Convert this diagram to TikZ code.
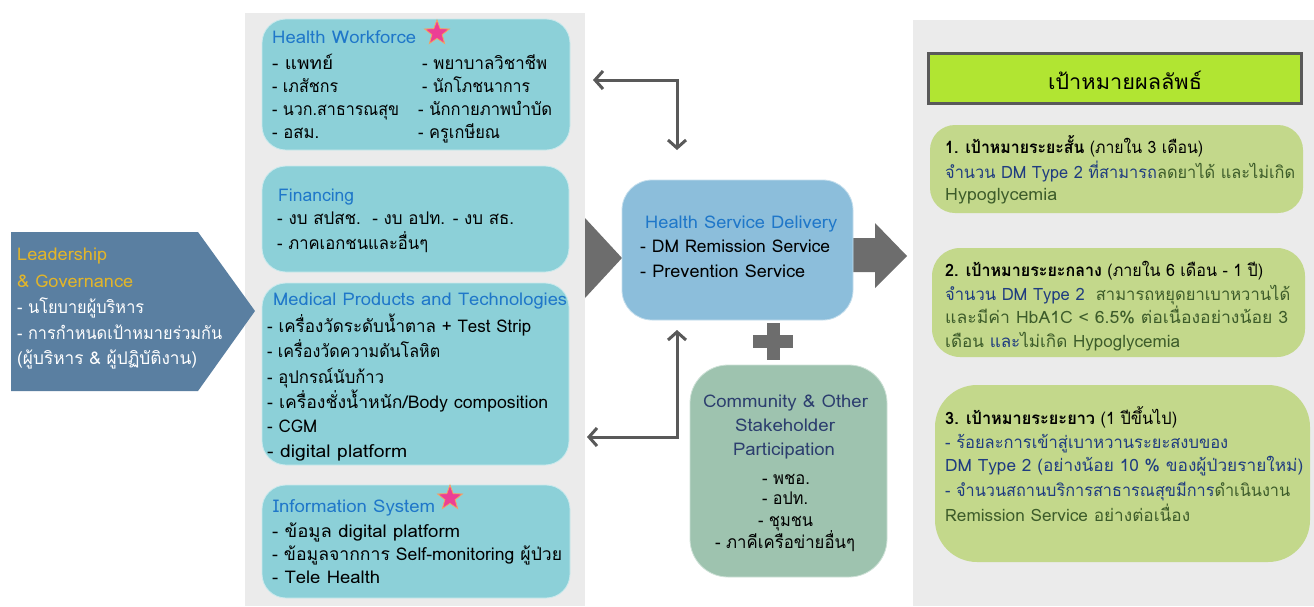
\documentclass[tikz,border=0pt]{standalone}
\usepackage{fontspec}
\usepackage{graphicx}
\setmainfont[Script=Thai]{Loma}
\usetikzlibrary{arrows.meta,shapes.geometric}
\definecolor{panel}{HTML}{EBEBEB}
\definecolor{tealbox}{HTML}{8CD0D8}
\definecolor{titleblue}{HTML}{1F77C9}
\definecolor{lead}{HTML}{5A7FA1}
\definecolor{gold}{HTML}{E2B52A}
\definecolor{hsd}{HTML}{8CBEDB}
\definecolor{sage}{HTML}{9EC3AF}
\definecolor{navy}{HTML}{2C3E6E}
\definecolor{lime}{HTML}{B1E532}
\definecolor{goal}{HTML}{C3D88B}
\definecolor{gblue}{HTML}{1F3C80}
\definecolor{ggreen}{HTML}{3D5C2A}
\definecolor{blockgray}{HTML}{6D6D6D}
\definecolor{linegray}{HTML}{595959}
\definecolor{starpink}{HTML}{EC3F95}
\definecolor{starorange}{HTML}{F4A460}
\newcommand{\fw}[2]{\resizebox{#1pt}{\height}{#2}}
\tikzset{
  box/.style={draw=white!55!tealbox, line width=0.8pt, fill=tealbox, rounded corners=24pt, inner sep=0},
  tx/.style={anchor=base west, inner sep=0, font=\fontsize{17.5}{20}\selectfont},
  ttl/.style={tx, text=titleblue},
  ctx/.style={anchor=base, inner sep=0, font=\fontsize{17.5}{20}\selectfont},
  gtx/.style={anchor=base west, inner sep=0, font=\fontsize{17}{20}\selectfont},
  conn/.style={draw=linegray, line width=3pt, {Straight Barb[length=8pt,width=18pt]}-{Straight Barb[length=8pt,width=18pt]}},
  pstar/.style={star, star points=5, star point ratio=2.4, fill=starpink, draw=starorange, line width=0.8pt, minimum size=26pt, inner sep=0},
}
\begin{document}
\begin{tikzpicture}[x=1pt,y=-1pt]
\useasboundingbox (0,0) rectangle (1314,606);
\fill[white] (0,0) rectangle (1314,606);
% panels
\fill[panel] (245,13) rectangle (585,606);
\fill[panel] (913,20) rectangle (1314,606);
% leadership pentagon
\fill[lead] (11,232) -- (198,232) -- (255,311) -- (198,391) -- (11,391) -- cycle;
\node[tx, text=gold] (l1) at (17,260) {\fw{90}{Leadership}};
\node[tx, text=gold] (l2) at (17,287) {\fw{116}{\& Governance}};
\node[tx, text=white] (l3) at (17,313) {\fw{127}{- นโยบายผู้บริหาร}};
\node[tx, text=white] (l4) at (17,339) {\fw{205}{- การกำหนดเป้าหมายร่วมกัน}};
\node[tx, text=white] (l5) at (17,364) {\fw{180}{(ผู้บริหาร \& ผู้ปฏิบัติงาน)}};
% Health workforce
\node[box, minimum width=308pt, minimum height=131pt] (hw) at (416,84.5) {};
\node[ttl] (hwt) at (272,43) {\fw{144}{Health Workforce}};
\node[pstar] (hws) at (437,33) {};
\node[tx] (hw1) at (272,69) {\fw{61}{- แพทย์}};
\node[tx] (hw2) at (272,92) {\fw{66}{- เภสัชกร}};
\node[tx] (hw3) at (272,115) {\fw{127}{- นวก.สาธารณสุข}};
\node[tx] (hw4) at (272,138) {\fw{47}{- อสม.}};
\node[tx] (hw5) at (422,69) {\fw{125}{- พยาบาลวิชาชีพ}};
\node[tx] (hw6) at (422,92) {\fw{108}{- นักโภชนาการ}};
\node[tx] (hw7) at (418,115) {\fw{134}{- นักกายภาพบำบัด}};
\node[tx] (hw8) at (418,138) {\fw{82}{- ครูเกษียณ}};
% Financing
\node[box, minimum width=307pt, minimum height=106pt] (fin) at (415.5,219) {};
\node[ttl] (fint) at (278,201) {\fw{76}{Financing}};
\node[tx] (fin1) at (277,224) {\fw{237}{- งบ สปสช.\ \ - งบ อปท. - งบ สธ.}};
\node[tx] (fin2) at (277,249) {\fw{151}{- ภาคเอกชนและอื่นๆ}};
% Medical products
\node[box, minimum width=307pt, minimum height=182pt] (med) at (415.5,374) {};
\node[ttl] (medt) at (273,305) {\fw{294}{Medical Products and Technologies}};
\node[tx] (med1) at (267,332) {\fw{264}{- เครื่องวัดระดับน้ำตาล + Test Strip}};
\node[tx] (med2) at (267,357) {\fw{173}{- เครื่องวัดความดันโลหิต}};
\node[tx] (med3) at (267,383) {\fw{117}{- อุปกรณ์นับก้าว}};
\node[tx] (med4) at (267,408) {\fw{281}{- เครื่องชั่งน้ำหนัก/Body composition}};
\node[tx] (med5) at (267,432) {\fw{50}{- CGM}};
\node[tx] (med6) at (267,457) {\fw{140}{- digital platform}};
% Information system
\node[box, minimum width=308pt, minimum height=113pt] (info) at (416,541.5) {};
\node[ttl] (infot) at (273,512) {\fw{162}{Information System}};
\node[pstar] (infos) at (450,498) {};
\node[tx] (info1) at (272,537) {\fw{188}{- ข้อมูล digital platform}};
\node[tx] (info2) at (272,560) {\fw{290}{- ข้อมูลจากการ Self-monitoring ผู้ป่วย}};
\node[tx] (info3) at (272,583) {\fw{108}{- Tele Health}};
% block arrows
\fill[blockgray] (585,218) -- (622,258) -- (585,298) -- cycle;
\fill[blockgray] (853,238) -- (875,238) -- (875,223) -- (907,256) -- (875,288) -- (875,272) -- (853,272) -- cycle;
% Health service delivery
\node[draw=white!50!hsd, line width=0.8pt, fill=hsd, rounded corners=30pt, minimum width=231pt, minimum height=140pt, inner sep=0] (hsdb) at (737.5,250) {};
\node[ttl] (hsdt) at (645,228) {\fw{192}{Health Service Delivery}};
\node[tx] (hsd1) at (640,252) {\fw{190}{- DM Remission Service}};
\node[tx] (hsd2) at (640,277) {\fw{165}{- Prevention Service}};
% plus
\fill[blockgray] (767,323) rectangle (780,360);
\fill[blockgray] (753,335) rectangle (793,348);
% community
\node[draw=white!50!sage, line width=0.8pt, fill=sage, rounded corners=38pt, minimum width=197pt, minimum height=212pt, inner sep=0] (comm) at (788.5,471) {};
\node[ctx, text=navy] (c1) at (785.5,407) {\fw{165}{Community \& Other}};
\node[ctx, text=navy] (c2) at (785,431) {\fw{100}{Stakeholder}};
\node[ctx, text=navy] (c3) at (784,455) {\fw{102}{Participation}};
\node[ctx] (c4) at (786,484) {\fw{48}{- พชอ.}};
\node[ctx] (c5) at (785,504) {\fw{46}{- อปท.}};
\node[ctx] (c6) at (785.5,526) {\fw{55}{- ชุมชน}};
\node[ctx] (c7) at (785,548) {\fw{140}{- ภาคีเครือข่ายอื่นๆ}};
% elbow connectors
\coordinate (a1) at (593,80);
\coordinate (a2) at (677,150);
\coordinate (a3) at (587,437);
\coordinate (a4) at (677,330);
\draw[conn] (a1) -| (a2);
\draw[conn] (a3) -| (a4);
% right column
\node[draw=linegray, line width=3pt, fill=lime, minimum width=373pt, minimum height=50pt, inner sep=0] (gt) at (1115,78.5) {};
\node[anchor=center, inner sep=0, font=\fontsize{21}{24}\selectfont] (gtt) at (1125,80) {\fw{154}{เป้าหมายผลลัพธ์}};
\node[fill=goal, rounded corners=25pt, minimum width=373pt, minimum height=88pt, inner sep=0] (g1) at (1116.5,169) {};
\node[gtx] (g11) at (945,153) {\fw{258}{\textbf{1. เป้าหมายระยะสั้น} (ภายใน 3 เดือน)}};
\node[gtx] (g12) at (945,178) {\fw{350}{\textcolor{gblue}{จำนวน DM Type 2 ที่สามารถ}\textcolor{ggreen}{ลดยาได้ และไม่เกิด}}};
\node[gtx, text=ggreen] (g13) at (945,200) {\fw{112}{Hypoglycemia}};
\node[fill=goal, rounded corners=28pt, minimum width=373pt, minimum height=109pt, inner sep=0] (g2) at (1118.5,302.5) {};
\node[gtx] (g21) at (945,276) {\fw{318}{\textbf{2. เป้าหมายระยะกลาง} (ภายใน 6 เดือน - 1 ปี)}};
\node[gtx] (g22) at (945,300) {\fw{345}{\textcolor{gblue}{จำนวน DM Type 2}\ \ \textcolor{ggreen}{สามารถหยุดยาเบาหวานได้}}};
\node[gtx, text=ggreen] (g23) at (945,323) {\fw{343}{และมีค่า HbA1C < 6.5\% ต่อเนื่องอย่างน้อย 3}};
\node[gtx, text=ggreen] (g24) at (945,347) {\fw{235}{เดือน \textcolor{gblue}{และ}ไม่เกิด Hypoglycemia}};
\node[fill=goal, rounded corners=42pt, minimum width=375pt, minimum height=177pt, inner sep=0] (g3) at (1122.5,473.5) {};
\node[gtx] (g31) at (945,424) {\fw{232}{\textbf{3. เป้าหมายระยะยาว} (1 ปีขึ้นไป)}};
\node[gtx, text=gblue] (g32) at (945,448) {\fw{283}{- ร้อยละการเข้าสู่เบาหวานระยะสงบของ}};
\node[gtx, text=gblue] (g33) at (945,471) {\fw{358}{DM Type 2 (อย่างน้อย 10 \% ของผู้ป่วยรายใหม่)}};
\node[gtx] (g34) at (945,496) {\fw{345}{\textcolor{gblue}{- จำนวนสถานบริการสาธารณสุขมีการ}\textcolor{ggreen}{ดำเนินงาน}}};
\node[gtx, text=ggreen] (g35) at (945,521) {\fw{245}{Remission Service อย่างต่อเนื่อง}};
\end{tikzpicture}
\end{document}
